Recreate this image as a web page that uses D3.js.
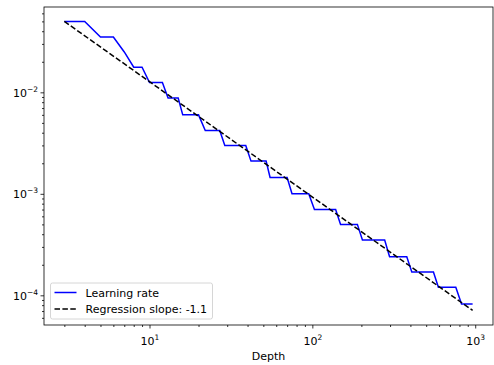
<!DOCTYPE html>
<html>
<head>
<meta charset="utf-8">
<script src="https://cdn.jsdelivr.net/npm/d3@7"></script>
<style>
  body { margin: 0; background: #fff; }
  text { font-family: "DejaVu Sans", sans-serif; fill: #000; }
</style>
</head>
<body>
<div id="chart"></div>
<script>
// data
var depth = [3, 4, 5, 6, 7, 8, 9, 10, 12, 13, 15, 16, 20, 22, 27, 29, 39, 42, 52, 55,
  70, 75, 95, 103, 139, 149, 189, 203, 278, 298, 380, 408, 554, 594, 760, 824, 964];
var learningRate = [0.05, 0.05, 0.035, 0.035, 0.025, 0.0177, 0.0177, 0.0125, 0.0125, 0.0088,
  0.0088, 0.006, 0.006, 0.0042, 0.0042, 0.003, 0.003, 0.0021, 0.0021, 0.00145,
  0.00145, 0.001, 0.001, 0.0007, 0.0007, 0.0005, 0.0005, 0.00035, 0.00035, 0.00024,
  0.00024, 0.00017, 0.00017, 0.00012, 0.00012, 0.000082, 0.000082];
var regDepth = [3, 964];
var regValue = [0.05, 0.000071];
var xTicks = [10, 100, 1000];
var yTicks = [1e-4, 1e-3, 1e-2];
var seriesNames = ["Learning rate", "Regression slope: -1.1"];

var svgWidth = 494, svgHeight = 365;
var margin = { top: 7, right: 1, bottom: 40, left: 44 };
var width = svgWidth - margin.left - margin.right;
var height = svgHeight - margin.top - margin.bottom;

var svg = d3.select("#chart").append("svg")
  .attr("width", svgWidth)
  .attr("height", svgHeight);

var chartGroup = svg.append("g")
  .attr("transform", `translate(${margin.left}, ${margin.top})`);

var xScale = d3.scaleLog().domain([2.25, 1286]).range([0, width]);
var yScale = d3.scaleLog().domain([5.1e-5, 0.0693]).range([height, 0]);

// minor ticks
function minorTicks(scale) {
  var d = scale.domain(), out = [];
  for (var e = Math.floor(Math.log10(d[0])); e <= Math.ceil(Math.log10(d[1])); e++) {
    for (var m = 2; m <= 9; m++) {
      var v = m * Math.pow(10, e);
      if (v >= d[0] && v <= d[1]) out.push(v);
    }
  }
  return out;
}

chartGroup.append("g")
  .attr("transform", `translate(0, ${height})`)
  .call(d3.axisBottom(xScale).tickValues(minorTicks(xScale)).tickSize(2).tickFormat(""))
  .call(g => g.select(".domain").remove());
chartGroup.append("g")
  .call(d3.axisLeft(yScale).tickValues(minorTicks(yScale)).tickSize(2).tickFormat(""))
  .call(g => g.select(".domain").remove());

// major ticks
var xAxis = chartGroup.append("g")
  .attr("transform", `translate(0, ${height})`)
  .call(d3.axisBottom(xScale).tickValues(xTicks).tickSize(3.5).tickFormat(""));
xAxis.select(".domain").remove();
xAxis.selectAll(".tick").append("text")
  .attr("y", 20)
  .attr("text-anchor", "middle")
  .attr("font-size", "11px")
  .each(function(d) {
    var t = d3.select(this);
    var e = Math.round(Math.log10(d));
    t.append("tspan").text("10");
    t.append("tspan").attr("dy", -5).attr("font-size", "7.5px").text(String(e));
  });

var yAxis = chartGroup.append("g")
  .call(d3.axisLeft(yScale).tickValues(yTicks).tickSize(3.5).tickFormat(""));
yAxis.select(".domain").remove();
yAxis.selectAll(".tick").append("text")
  .attr("x", -6)
  .attr("y", 4)
  .attr("text-anchor", "end")
  .attr("font-size", "11px")
  .each(function(d) {
    var t = d3.select(this);
    var e = Math.round(Math.log10(d));
    t.append("tspan").text("10");
    t.append("tspan").attr("dy", -5).attr("font-size", "7.5px").text("\u2212" + Math.abs(e));
  });

chartGroup.selectAll(".tick line").attr("stroke", "#000").attr("stroke-width", 0.8);

// lines
var lrData = depth.map((d, i) => [d, learningRate[i]]);
var regData = regDepth.map((d, i) => [d, regValue[i]]);
var line = d3.line().x(d => xScale(d[0])).y(d => yScale(d[1]));

chartGroup.append("path")
  .datum(lrData)
  .attr("d", line)
  .attr("fill", "none")
  .attr("stroke", "#0000ff")
  .attr("stroke-width", 1.5);

chartGroup.append("path")
  .datum(regData)
  .attr("d", line)
  .attr("fill", "none")
  .attr("stroke", "#000")
  .attr("stroke-width", 1.5)
  .attr("stroke-dasharray", "5.5,2.4");

// frame
chartGroup.append("rect")
  .attr("width", width)
  .attr("height", height)
  .attr("fill", "none")
  .attr("stroke", "#000")
  .attr("stroke-width", 0.8);

// x label
chartGroup.append("text")
  .attr("x", width / 2)
  .attr("y", height + 35)
  .attr("text-anchor", "middle")
  .attr("font-size", "11px")
  .text("Depth");

// legend
var legend = chartGroup.append("g").attr("transform", `translate(6.5, ${height - 42})`);
legend.append("rect")
  .attr("width", 162)
  .attr("height", 36)
  .attr("rx", 2)
  .attr("fill", "#fff")
  .attr("fill-opacity", 0.8)
  .attr("stroke", "#ccc")
  .attr("stroke-width", 0.8);
var styles = [{ color: "#0000ff", dash: null }, { color: "#000", dash: "5.5,2.4" }];
seriesNames.forEach(function(name, i) {
  var y = 9.5 + i * 16.5;
  legend.append("line")
    .attr("x1", 4).attr("x2", 26)
    .attr("y1", y).attr("y2", y)
    .attr("stroke", styles[i].color)
    .attr("stroke-width", 1.5)
    .attr("stroke-dasharray", styles[i].dash);
  legend.append("text")
    .attr("x", 35)
    .attr("y", y + 4)
    .attr("font-size", "11px")
    .text(name);
});
</script>
</body>
</html>
